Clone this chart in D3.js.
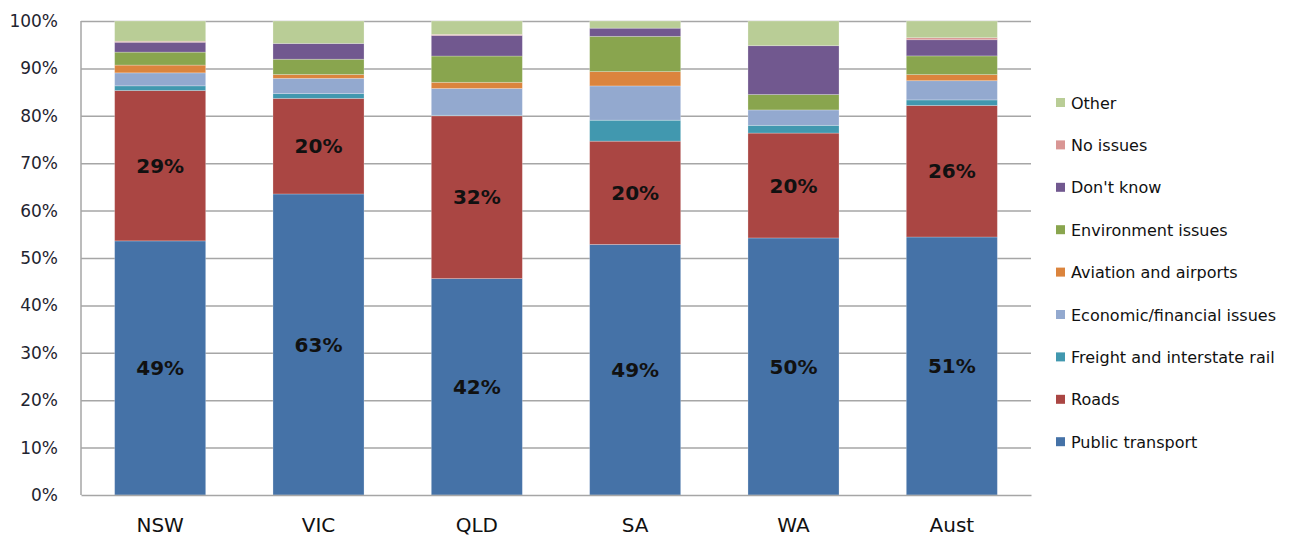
<!DOCTYPE html>
<html>
<head>
<meta charset="utf-8">
<script src="https://cdn.jsdelivr.net/npm/d3@7"></script>
<style>
  body { margin: 0; background: #fff; }
  svg { display: block; font-family: "DejaVu Sans", sans-serif; }
  .grid line { stroke: #a6a6a6; stroke-width: 1.5; }
  .grid .domain { display: none; }
</style>
</head>
<body>
<svg id="chart"></svg>
<script>
const categories = ["NSW", "VIC", "QLD", "SA", "WA", "Aust"];
const seriesNames = ["Public transport", "Roads", "Freight and interstate rail",
  "Economic/financial issues", "Aviation and airports", "Environment issues",
  "Don't know", "No issues", "Other"];

// values per series, one per category (survey %, bars are 100% stacked)
const publicTransport = [49, 63, 42, 49, 50, 51];
const roads           = [29, 20, 31.6, 20.2, 20.4, 26];
const freightRail     = [0.9, 1.0, 0.1, 4.1, 1.5, 1.1];
const economic        = [2.5, 3.2, 5.2, 6.7, 3.0, 3.8];
const aviation        = [1.5, 0.8, 1.2, 2.8, 0, 1.2];
const environment     = [2.5, 3.2, 5.1, 6.9, 3.0, 3.7];
const dontKnow        = [1.9, 3.3, 4.0, 1.6, 9.5, 3.2];
const noIssues        = [0.2, 0, 0.2, 0, 0, 0.4];
const other           = [3.9, 4.7, 2.6, 1.4, 4.8, 3.3];

const yTicks = [0, 0.1, 0.2, 0.3, 0.4, 0.5, 0.6, 0.7, 0.8, 0.9, 1];
const labelledSeries = ["Public transport", "Roads"];

const colors = ["#4572a7", "#aa4643", "#4198af", "#93a9cf", "#db843d",
  "#89a54e", "#71588f", "#d99694", "#b9cd96"];

const seriesValues = [publicTransport, roads, freightRail, economic, aviation,
  environment, dontKnow, noIssues, other];

const table = categories.map((c, i) => {
  const row = { cat: c };
  seriesNames.forEach((s, j) => row[s] = seriesValues[j][i]);
  return row;
});

const W = 1293, H = 538;
const plot = { left: 81, right: 1031, top: 21, bottom: 495 };

const svg = d3.select("#chart").attr("width", W).attr("height", H);

const x = d3.scaleBand()
  .domain(categories)
  .range([plot.left, plot.right])
  .paddingInner(0.425)
  .paddingOuter(0.2125);

const y = d3.scaleLinear().domain([0, 1]).range([plot.bottom, plot.top]);

const color = d3.scaleOrdinal().domain(seriesNames).range(colors);

// gridlines
svg.append("g")
  .attr("class", "grid")
  .attr("transform", `translate(${plot.left},0)`)
  .call(d3.axisLeft(y).tickValues(yTicks.slice(1))
    .tickSize(-(plot.right - plot.left)).tickFormat(""));

// y tick labels
svg.append("g")
  .attr("transform", `translate(${plot.left},0)`)
  .call(d3.axisLeft(y).tickValues(yTicks).tickSize(0).tickPadding(23)
    .tickFormat(d3.format(".0%")))
  .call(g => g.select(".domain").remove())
  .selectAll("text")
  .attr("font-family", "DejaVu Sans")
  .attr("font-size", 17)
  .attr("fill", "#1f2430");

const stack = d3.stack().keys(seriesNames).offset(d3.stackOffsetExpand);
const layers = stack(table);

const layerG = svg.append("g").selectAll("g")
  .data(layers)
  .join("g")
  .attr("fill", d => color(d.key));

layerG.selectAll("rect")
  .data(d => d.filter(p => p[1] - p[0] > 0))
  .join("rect")
  .attr("x", d => x(d.data.cat))
  .attr("width", x.bandwidth())
  .attr("y", d => y(d[1]))
  .attr("height", d => y(d[0]) - y(d[1]))
  .attr("stroke", "rgba(255,255,255,0.3)")
  .attr("stroke-width", 0.8);

// value labels
const fmtPct = v => d3.format(".0f")(v) + "%";
svg.append("g").selectAll("g")
  .data(layers.filter(l => labelledSeries.includes(l.key)))
  .join("g")
  .each(function(layer) {
    d3.select(this).selectAll("text")
      .data(layer)
      .join("text")
      .attr("x", d => x(d.data.cat) + x.bandwidth() / 2)
      .attr("y", d => (y(d[0]) + y(d[1])) / 2)
      .attr("dy", "0.36em")
      .attr("text-anchor", "middle")
      .attr("font-family", "DejaVu Sans")
      .attr("font-weight", "bold")
      .attr("font-size", 20)
      .attr("fill", "#111")
      .text(d => fmtPct(d.data[layer.key]));
  });

// axes lines
svg.append("line")
  .attr("x1", plot.left).attr("x2", plot.left)
  .attr("y1", plot.top).attr("y2", plot.bottom)
  .attr("stroke", "#a6a6a6").attr("stroke-width", 1.5);

svg.append("g")
  .attr("transform", `translate(0,${plot.bottom})`)
  .call(d3.axisBottom(x).tickSize(0).tickPadding(23))
  .call(g => g.select(".domain")
    .attr("stroke", "#a6a6a6").attr("stroke-width", 1.5))
  .selectAll("text")
  .attr("font-family", "DejaVu Sans")
  .attr("font-size", 20)
  .attr("fill", "#111");

// legend, top item is last series
const legendItems = seriesNames.slice().reverse();
const legend = svg.append("g").selectAll("g")
  .data(legendItems)
  .join("g")
  .attr("transform", (d, i) => `translate(1056,${103 + i * 42.4})`);

legend.append("rect")
  .attr("x", 0).attr("y", -5)
  .attr("width", 9).attr("height", 9)
  .attr("fill", d => color(d));

legend.append("text")
  .attr("x", 15)
  .attr("dy", "0.35em")
  .attr("font-family", "DejaVu Sans")
  .attr("font-size", 16)
  .attr("fill", "#111")
  .text(d => d);
</script>
</body>
</html>
